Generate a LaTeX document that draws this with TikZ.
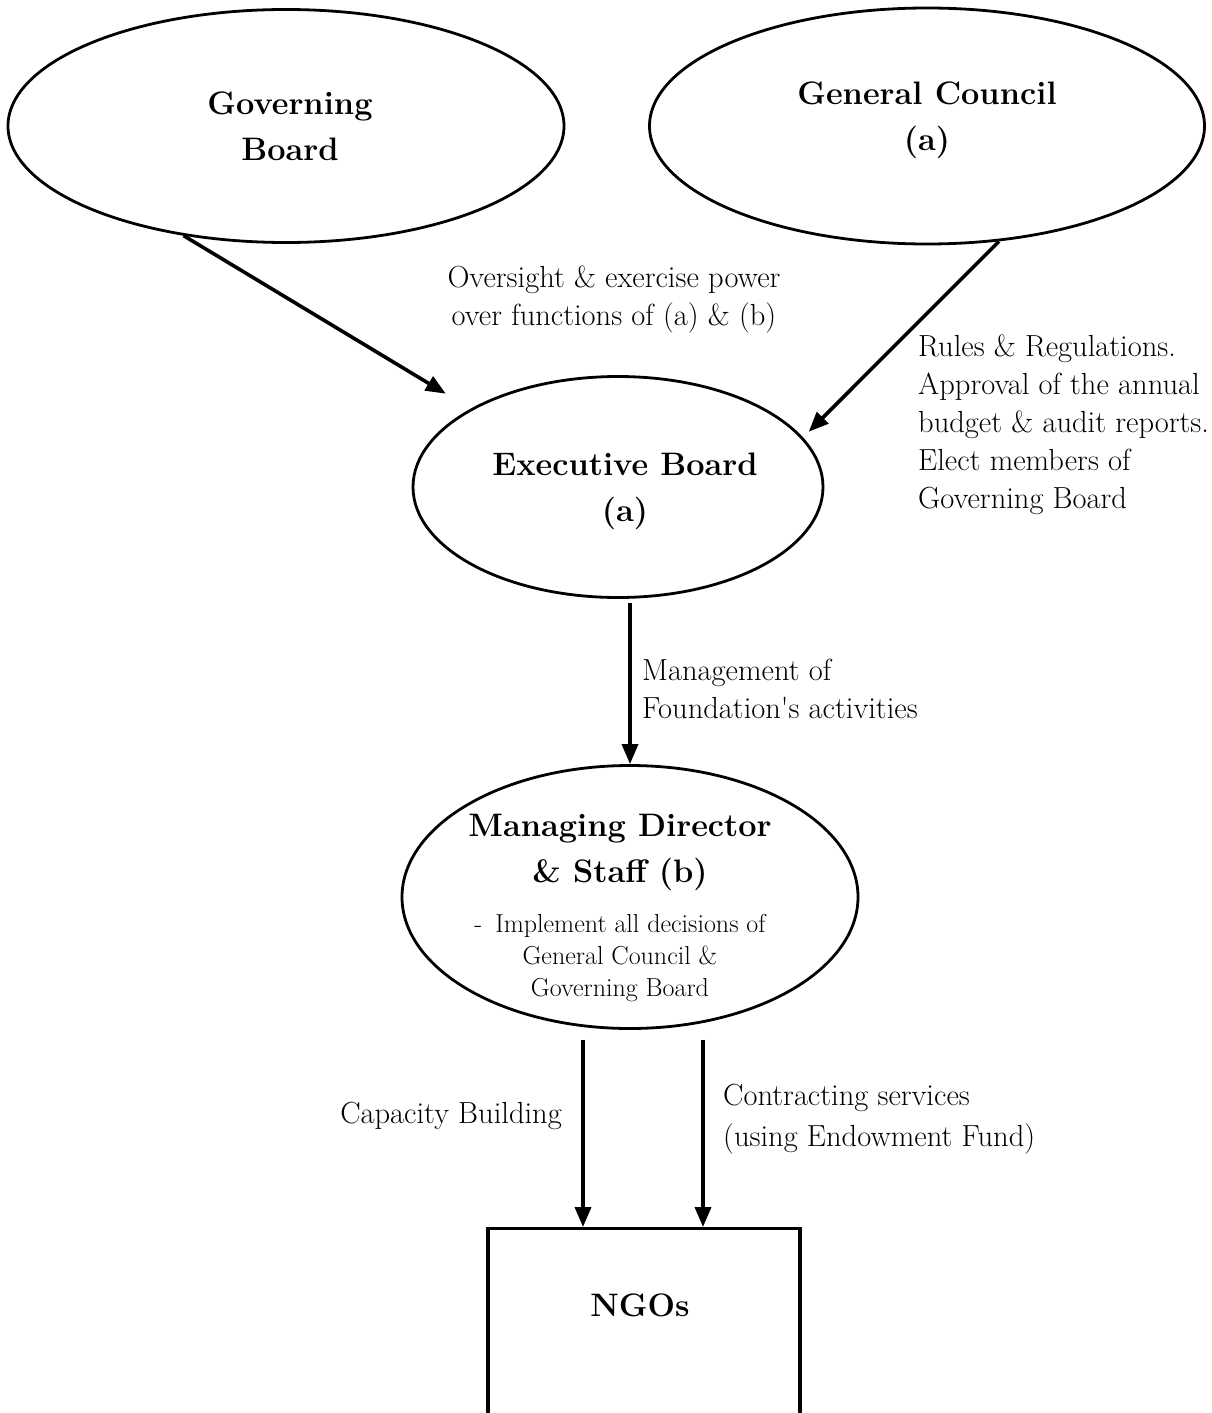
\documentclass[tikz,border=0pt]{standalone}
\usepackage{fontspec}
\usetikzlibrary{shapes.geometric,arrows.meta}
\begin{document}
\begin{tikzpicture}[x=1pt,y=-1pt,
  oval/.style={draw, ellipse, line width=2.8pt, inner sep=0pt},
  title/.style={font=\fontsize{32.5}{46}\selectfont\bfseries, align=center, inner sep=0pt},
  note/.style={font=\fontsize{30.5}{38}\selectfont, align=left, inner sep=0pt},
  small/.style={font=\fontsize{26}{32}\selectfont, align=center, inner sep=0pt},
  arr/.style={line width=3.6pt, -{Triangle[length=20pt,width=16pt]}},
]
\useasboundingbox (0,0) rectangle (1211,1413);
\clip (0,0) rectangle (1211,1413);

% bodies of the foundation
\node[oval, minimum width=556pt, minimum height=233pt] (gb) at (286,126) {};
\node[oval, minimum width=555pt, minimum height=236pt] (gc) at (927,126) {};
\node[oval, minimum width=410pt, minimum height=221pt] (eb) at (618,487) {};
\node[oval, minimum width=456pt, minimum height=263pt] (md) at (630,897) {};
\node[draw, line width=3.2pt, minimum width=312pt, minimum height=300pt, anchor=north] (ngo) at (644,1227) {};

% names inside the shapes
\node[title] (gbt) at (290,126) {Governing\\Board};
\node[title] (gct) at (927,120) {General Council\\(a)};
\node[title] (ebt) at (625,491) {Executive Board\\(a)};
\node[title] (mdt) at (620,852) {Managing Director\\\& Staff (b)};
\node[small] (mdn) at (620,958) {-\enskip Implement all decisions of\\General Council \&\\Governing Board};
\node[title] (ngot) at (640,1305) {NGOs};

% connector labels
\node[note, align=center] (l1) at (614,299) {Oversight \& exercise power\\over functions of (a) \& (b)};
\node[note, anchor=west] (l2) at (918,425) {Rules \& Regulations.\\Approval of the annual\\budget \& audit reports.\\Elect members of\\Governing Board};
\node[note, anchor=west] (l3) at (642,689) {Management of\\Foundation\textquotesingle s activities};
\node[note, anchor=east] (l4) at (562,1116) {Capacity Building};
\node[note, anchor=west, font=\fontsize{30.5}{41}\selectfont] (l5) at (723,1119) {Contracting services\\(using Endowment Fund)};

% connectors
\draw[arr, shorten >=29pt] (gb.-133) -- (eb.152);
\draw[arr, shorten >=8pt] (gc.-58) -- (eb.15);
\draw[arr, shorten <=4pt] (md.north |- eb.south) -- (md.north);
\draw[arr, shorten <=10pt] ([xshift=-61pt]ngo.north |- md.south) -- ([xshift=-61pt]ngo.north);
\draw[arr, shorten <=10pt] ([xshift=59pt]ngo.north |- md.south) -- ([xshift=59pt]ngo.north);
\end{tikzpicture}
\end{document}
